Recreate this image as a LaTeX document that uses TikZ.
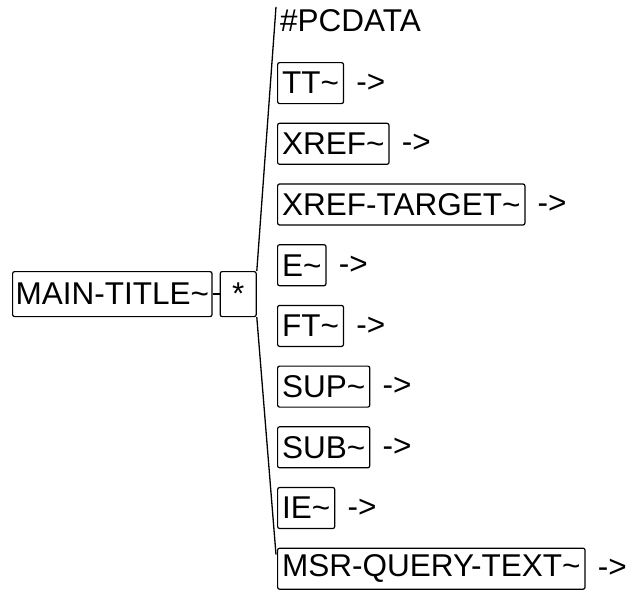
\documentclass[tikz,border=0pt]{standalone}
\usepackage{fontspec}
\setmainfont{Liberation Sans}
\usepackage{tikz}
\usetikzlibrary{positioning}

\begin{document}
\begin{tikzpicture}[every node/.style={font=\fontsize{31.5}{32}\selectfont}, tag/.style={draw, line width=1.2pt, rounded corners=2pt, minimum height=41pt, inner xsep=4.5pt, inner ysep=0pt, anchor=north west}, under/.style={below=18.5pt of #1.south west, anchor=north west}, more/.style={inner sep=0pt}, link/.style={line width=1.3pt}]
\useasboundingbox (0,0) rectangle (629pt,-597pt);
\node[tag, minimum height=45pt, inner xsep=3pt] (mt) at (12pt,-271pt) {MAIN-TITLE\textasciitilde};
\node[tag, minimum height=45pt, minimum width=36pt, right=7pt of mt, anchor=west] (star) {*};
\node[inner sep=0pt, anchor=base west] (pcdata) at (280pt,-31pt) {\#PCDATA};
\node[tag] (tt) at (277pt,-62pt) {TT\textasciitilde};
\node[tag, under=tt] (xref) {XREF\textasciitilde};
\node[tag, under=xref] (xreft) {XREF-TARGET\textasciitilde};
\node[tag, under=xreft] (e) {E\textasciitilde};
\node[tag, under=e] (ft) {FT\textasciitilde};
\node[tag, under=ft] (sup) {SUP\textasciitilde};
\node[tag, under=sup] (sub) {SUB\textasciitilde};
\node[tag, under=sub] (ie) {IE\textasciitilde};
\node[tag, under=ie] (msr) {MSR-QUERY-TEXT\textasciitilde};
\foreach \c in {tt,xref,xreft,e,ft,sup,sub,ie,msr}
  \node[more, right=12pt of \c] (\c-more) {-{}>};
\draw[link] (mt) -- (star);
% bracket round the choice
\draw[link] (star.north east) -- ([xshift=-4pt,yshift=2pt]pcdata.north west);
\draw[link] (star.south east) -- ([xshift=-1pt,yshift=-7pt]msr.north west);
\end{tikzpicture}
\end{document}
